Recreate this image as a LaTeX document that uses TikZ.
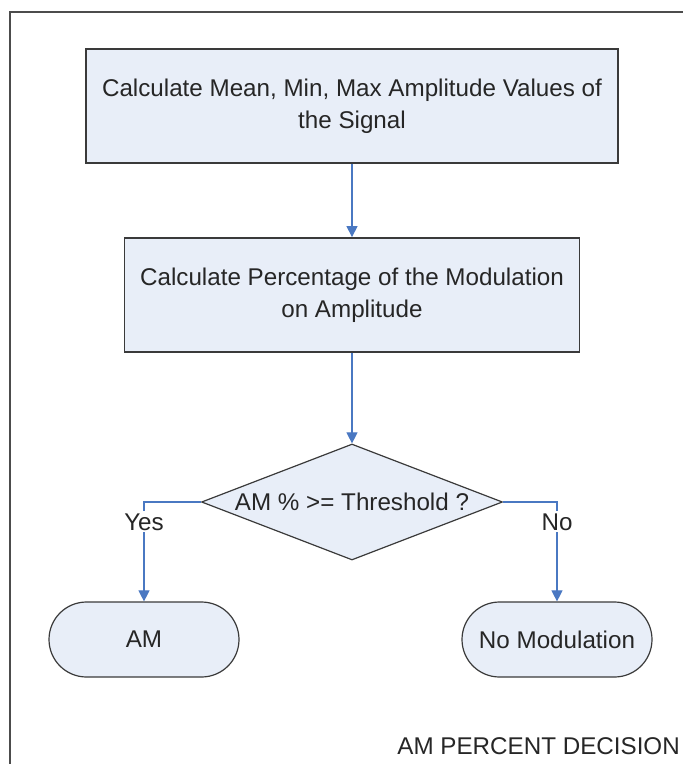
\documentclass[tikz,border=0pt]{standalone}
\usepackage{fontspec}
\setmainfont{Liberation Sans}
\usetikzlibrary{shapes.geometric, arrows.meta}

\definecolor{boxfill}{HTML}{E8EEF8}
\definecolor{boxline}{HTML}{3A3A3A}
\definecolor{flowblue}{HTML}{4A78C2}

\begin{document}
\begin{tikzpicture}[
          x=1pt, y=-1pt,
          every node/.style={font=\fontsize{24.2}{32}\selectfont, text=black!85},
          process/.style={rectangle, fill=boxfill, draw=boxline, line width=1.8pt,
                          align=center, inner sep=0pt},
          decision/.style={diamond, fill=boxfill, draw=boxline, line width=1.2pt,
                           aspect=2.6, inner sep=0pt,
                           minimum width=301pt, minimum height=116pt},
          terminal/.style={rectangle, rounded corners=37.5pt, fill=boxfill, draw=boxline,
                           line width=1.2pt, minimum width=190pt, minimum height=75pt},
          flow/.style={draw=flowblue, line width=1.1pt,
                       -{Triangle[width=11pt,length=11pt]}},
          answer/.style={fill=white, inner sep=2pt},
        ]
        \useasboundingbox (0, 0) rectangle (683, 764);
        \draw[draw=black!70, line width=2pt] (10, 764) -- (10, 12) -- (683, 12);

        \node[process, minimum width=532pt, minimum height=114pt] (mean) at (352, 106)
          {Calculate Mean, Min, Max Amplitude Values of\\the Signal};
        \node[process, minimum width=455pt, minimum height=114pt] (perc) at (352, 295)
          {Calculate Percentage of the Modulation\\on Amplitude};
        \node[decision] (dec) at (352, 502) {};
        \node (dectext) at (dec.center) {AM \% >= Threshold ?};
        \node[terminal] (am) at (144, 639.5) {AM};
        \node[terminal] (nomod) at (557, 639.5) {No Modulation};

        \draw[flow] (mean) -- (perc);
        \draw[flow] (perc) -- (dec);
        \draw[flow] (dec.west) -| node[answer, pos=0.6] {Yes} (am.north);
        \draw[flow] (dec.east) -| node[answer, pos=0.6] {No} (nomod.north);

        \node[anchor=east, inner sep=0pt] (caption) at (680, 746) {AM PERCENT DECISION};
      \end{tikzpicture}
\end{document}
